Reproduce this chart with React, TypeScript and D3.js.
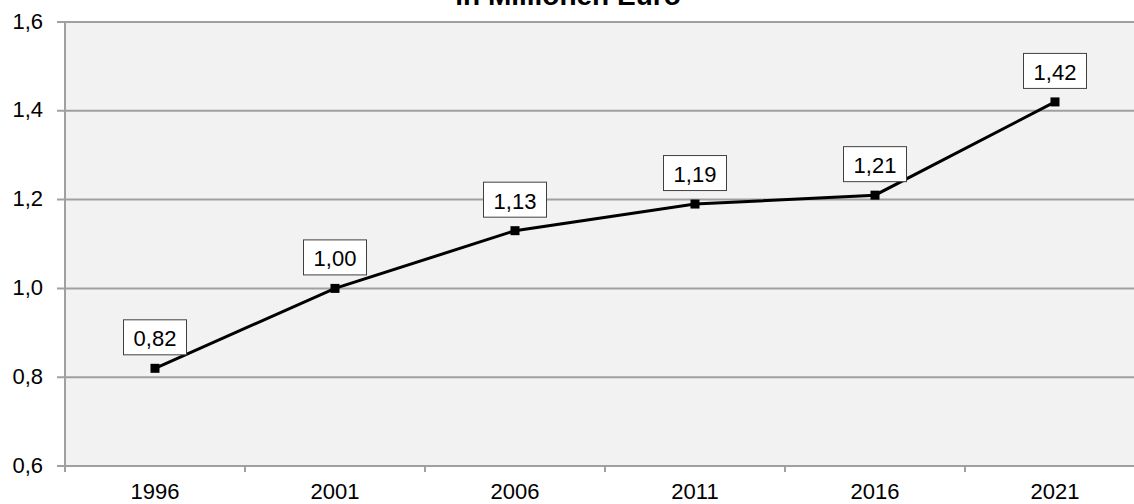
import React, { useEffect, useRef } from "react";
import * as d3 from "d3";

const years = ["1996", "2001", "2006", "2011", "2016", "2021"];
const values = [0.82, 1.0, 1.13, 1.19, 1.21, 1.42];
const yTicks = [0.6, 0.8, 1.0, 1.2, 1.4, 1.6];
const title = "in Millionen Euro";

const App: React.FC = () => {
  const svgRef = useRef<SVGSVGElement | null>(null);

  useEffect(() => {
    if (!svgRef.current) return;
    const width = 1134;
    const height = 504;
    const margin = { top: 22, right: -11, bottom: 38, left: 65 };
    const font = "'Liberation Sans', Arial, sans-serif";

    const svg = d3.select(svgRef.current);
    svg.selectAll("*").remove();

    const x = d3
      .scaleBand<string>()
      .domain(years)
      .range([margin.left, width - margin.right])
      .padding(0);

    const y = d3
      .scaleLinear()
      .domain([0.6, 1.6])
      .range([height - margin.bottom, margin.top]);

    const fmt = (v: number, d: number) => v.toFixed(d).replace(".", ",");

    // plot background
    svg
      .append("rect")
      .attr("x", margin.left)
      .attr("y", margin.top)
      .attr("width", width - margin.right - margin.left)
      .attr("height", y(0.6) - margin.top)
      .attr("fill", "#f2f2f2");

    // gridlines + y ticks
    svg
      .append("g")
      .selectAll("line")
      .data(yTicks)
      .enter()
      .append("line")
      .attr("x1", margin.left - 8)
      .attr("x2", width - margin.right)
      .attr("y1", (d) => y(d))
      .attr("y2", (d) => y(d))
      .style("stroke", "#a0a0a0")
      .style("stroke-width", 2);

    svg
      .append("g")
      .selectAll("text")
      .data(yTicks)
      .enter()
      .append("text")
      .attr("x", margin.left - 22)
      .attr("y", (d) => y(d) + 6.5)
      .attr("text-anchor", "end")
      .style("font-family", font)
      .style("font-size", "22px")
      .style("fill", "#000")
      .text((d) => fmt(d, 1));

    // y axis line
    svg
      .append("line")
      .attr("x1", margin.left)
      .attr("x2", margin.left)
      .attr("y1", margin.top)
      .attr("y2", y(0.6) + 6)
      .style("stroke", "#a0a0a0")
      .style("stroke-width", 2);

    // x ticks between categories
    const tickXs = years.slice(1).map((d) => x(d)!);
    svg
      .append("g")
      .selectAll("line")
      .data(tickXs)
      .enter()
      .append("line")
      .attr("x1", (d) => d)
      .attr("x2", (d) => d)
      .attr("y1", y(0.6))
      .attr("y2", y(0.6) + 6)
      .style("stroke", "#a0a0a0")
      .style("stroke-width", 2);

    svg
      .append("g")
      .selectAll("text")
      .data(years)
      .enter()
      .append("text")
      .attr("x", (d) => x(d)! + x.bandwidth() / 2)
      .attr("y", y(0.6) + 33)
      .attr("text-anchor", "middle")
      .style("font-family", font)
      .style("font-size", "22px")
      .style("fill", "#000")
      .text((d) => d);

    // line
    const pts = years.map((d, i) => ({ year: d, v: values[i] }));
    const line = d3
      .line<{ year: string; v: number }>()
      .x((d) => x(d.year)! + x.bandwidth() / 2)
      .y((d) => y(d.v));

    svg
      .append("path")
      .datum(pts)
      .attr("d", line)
      .attr("fill", "none")
      .style("stroke", "#000")
      .style("stroke-width", 3);

    svg
      .append("g")
      .selectAll("rect")
      .data(pts)
      .enter()
      .append("rect")
      .attr("x", (d) => x(d.year)! + x.bandwidth() / 2 - 4.5)
      .attr("y", (d) => y(d.v) - 4.5)
      .attr("width", 9)
      .attr("height", 9)
      .attr("fill", "#000");

    // data labels
    const labels = svg.append("g").selectAll("g").data(pts).enter().append("g");
    labels
      .append("rect")
      .attr("x", (d) => x(d.year)! + x.bandwidth() / 2 - 31.5)
      .attr("y", (d) => y(d.v) - 48.5)
      .attr("width", 63)
      .attr("height", 35)
      .attr("fill", "#fff")
      .style("stroke", "#404040")
      .style("stroke-width", 1);
    labels
      .append("text")
      .attr("x", (d) => x(d.year)! + x.bandwidth() / 2)
      .attr("y", (d) => y(d.v) - 22)
      .attr("text-anchor", "middle")
      .style("font-family", font)
      .style("font-size", "22px")
      .style("fill", "#000")
      .text((d) => fmt(d.v, 2));

    // title (cut off at top, as in the source)
    svg
      .append("text")
      .attr("x", 568)
      .attr("y", 5)
      .attr("text-anchor", "middle")
      .style("font-family", font)
      .style("font-size", "28px")
      .style("font-weight", "bold")
      .style("fill", "#000")
      .text(title);
  }, []);

  return (
    <svg
      ref={svgRef}
      width={1134}
      height={504}
      style={{ position: "absolute", left: 0, top: 0, background: "#fff" }}
    ></svg>
  );
};

export default App;
